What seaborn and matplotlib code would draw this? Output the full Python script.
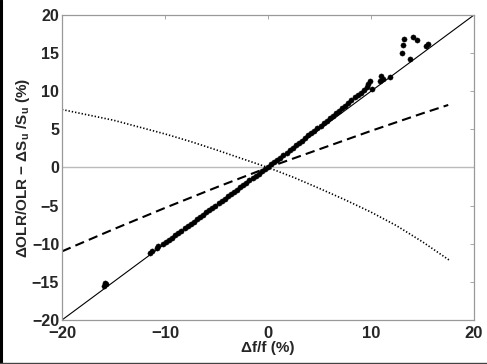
import numpy as np
import pandas as pd
import seaborn as sns
import matplotlib.pyplot as plt
from matplotlib.lines import Line2D

# scatter: model points
pts_x = [-15.8, -15.9, -15.7, -11.5, -11.3, -10.8, -10.7,
         -10.2, -9.9, -9.6, -9.3, -9.0, -8.7, -8.4, -8.1, -7.8, -7.5, -7.2, -6.9,
         -6.6, -6.3, -6.0, -5.7, -5.4, -5.1, -4.8, -4.5, -4.2, -3.9, -3.6, -3.3,
         -3.0, -2.7, -2.4, -2.1, -1.8, -1.5, -1.2, -0.9, -0.6, -0.3, 0.0, 0.3,
         0.6, 0.9, 1.2, 1.5, 1.8, 2.1, 2.4, 2.7, 3.0, 3.3, 3.6, 3.9, 4.2, 4.5,
         4.8, 5.1, 5.4, 5.7, 6.0, 6.3, 6.6, 6.9, 7.2, 7.5, 7.8, 8.1,
         8.4, 8.7, 9.0, 9.3, 9.6, 9.7, 9.9, 10.1, 10.9, 11.0, 11.2, 11.8,
         13.0, 13.15, 13.2, 13.8, 14.1, 14.5, 15.3, 15.5]
pts_y = [-15.1, -15.5, -15.3, -11.2, -11.0, -10.5, -10.3,
         -10.0, -9.8, -9.5, -9.2, -8.9, -8.6, -8.3, -8.0, -7.7, -7.4, -7.1, -6.8,
         -6.5, -6.2, -5.9, -5.6, -5.3, -5.0, -4.7, -4.4, -4.1, -3.8, -3.5, -3.2,
         -2.9, -2.6, -2.3, -2.0, -1.7, -1.4, -1.1, -0.8, -0.5, -0.2, 0.1, 0.4,
         0.7, 1.0, 1.3, 1.6, 1.9, 2.3, 2.6, 2.9, 3.2, 3.5, 3.9, 4.2, 4.5, 4.8,
         5.2, 5.5, 5.8, 6.1, 6.5, 6.8, 7.1, 7.4, 7.8, 8.1, 8.5, 8.8,
         9.2, 9.5, 9.8, 10.2, 10.6, 10.9, 11.3, 10.3, 11.4, 12.0, 11.6, 11.9,
         15.05, 16.0, 16.9, 14.2, 17.1, 16.7, 15.9, 16.2]

# dashed line
dash_x = [-20, -15, -10, -5, 0, 5, 10, 15, 17.5]
dash_y = [-11.0, -8.1, -5.3, -2.6, 0.0, 2.4, 4.8, 7.1, 8.2]

# dotted curve
dot_x = [-20, -17.5, -15, -12.5, -10, -7.5, -5, -2.5, 0, 2.5, 5, 7.5, 10, 12.5, 15, 17.6]
dot_y = [7.6, 6.9, 6.2, 5.3, 4.4, 3.4, 2.3, 1.15, 0.0, -1.3, -2.75, -4.25, -5.85, -7.65, -9.75, -12.15]

one_x = [-20, 20]
one_y = [-20, 20]

sns.set_style('white')
plt.rcParams['font.family'] = ['Liberation Sans', 'DejaVu Sans']
plt.rcParams['font.weight'] = 'bold'
plt.rcParams['mathtext.fontset'] = 'custom'
plt.rcParams['mathtext.bf'] = 'Liberation Sans:bold'
plt.rcParams['mathtext.rm'] = 'Liberation Sans:bold'

fig = plt.figure(figsize=(4.87, 3.64), dpi=100)
ax = fig.add_axes([0.1273, 0.1209, 0.8460, 0.8379])

ax.axhline(0, color='#bbbbbb', lw=1.0, zorder=1)
sns.lineplot(x=one_x, y=one_y, color='black', lw=0.8, ax=ax, sort=False)
sns.lineplot(x=dash_x, y=dash_y, color='black', lw=1.5, ax=ax, sort=False,
             linestyle=(0, (4.5, 2.5)))
sns.lineplot(x=dot_x, y=dot_y, color='black', lw=1.2, ax=ax, sort=False,
             linestyle=(0, (0.8, 1.2)))
sns.scatterplot(x=pts_x, y=pts_y, color='black', s=14, edgecolor='black',
                linewidth=0.3, ax=ax, zorder=5)

ax.set_xlim(-20, 20)
ax.set_ylim(-20, 20)
ax.set_xticks([-20, -10, 0, 10, 20])
ax.set_yticks([-20, -15, -10, -5, 0, 5, 10, 15, 20])
ax.set_xticklabels(['\u221220', '\u221210', '0', '10', '20'], fontsize=12, fontweight='bold')
ax.set_yticklabels(['\u221220', '\u221215', '\u221210', '\u22125', '0', '5', '10', '15', '20'],
                   fontsize=11.5, fontweight='bold')
ax.tick_params(direction='in', length=3, width=0.6, color='#999999',
               top=True, right=True, pad=2)
ax.tick_params(axis='x', pad=4)
for s in ax.spines.values():
    s.set_color('#999999')
    s.set_linewidth(0.9)

ax.set_xlabel('\u0394f/f (%)', fontsize=11, fontweight='bold', labelpad=0)
ax.set_ylabel('\u0394OLR/OLR \u2212 \u0394S$_\\mathbf{u}$ /S$_\\mathbf{u}$ (%)',
              fontsize=11, fontweight='bold', labelpad=0)

# image frame on left and bottom
fig.add_artist(Line2D([0.002, 0.002], [0, 1], transform=fig.transFigure,
                      color='black', lw=2.2))
fig.add_artist(Line2D([0, 1], [0.004, 0.004], transform=fig.transFigure,
                      color='#444444', lw=1.0))

fig.savefig('out.png', dpi=100)
